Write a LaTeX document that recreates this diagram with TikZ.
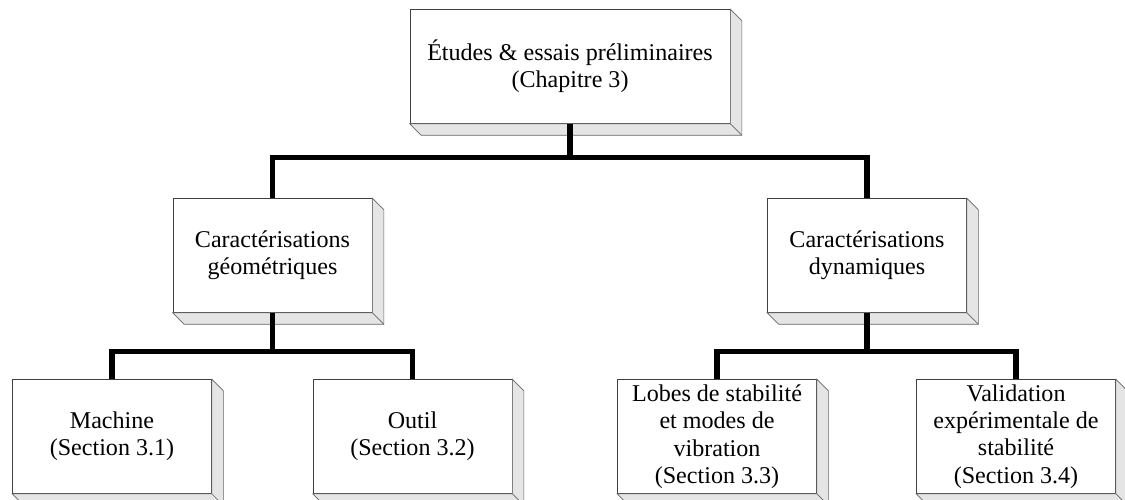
\documentclass[tikz,border=0pt]{standalone}
\usepackage{fontspec}
\setmainfont{Liberation Serif}

\begin{document}
\begin{tikzpicture}[every node/.style={rectangle, draw=black!75, fill=white, thin, minimum width=3.98cm, minimum height=2.28cm, inner sep=0pt, align=center, font=\fontsize{13.7}{15.6}\selectfont},
    face/.style={draw=black!60, fill=black!10, thin},
    link/.style={line width=3pt}]
        \useasboundingbox (0,0) rectangle (22.5,-10);
        % Nodes
        \node (top) at (11.4,-1.33) [minimum width=6.4cm] {Études \& essais préliminaires\\(Chapitre 3)};
        \node (geo) at (5.45,-5.11) {Caractérisations\\géométriques};
        \node (dyn) at (17.34,-5.11) {Caractérisations\\dynamiques};
        \node (mach) at (2.24,-8.73) {Machine\\(Section 3.1)};
        \node (outil) at (8.25,-8.73) {Outil\\(Section 3.2)};
        \node (lobes) at (14.34,-8.73) {Lobes de stabilité\\et modes de\\vibration\\(Section 3.3)};
        \node (valid) at (20.32,-8.73) {Validation\\expérimentale de\\stabilité\\(Section 3.4)};

        % Depth faces
        \foreach \n in {top,geo,dyn,mach,outil,lobes,valid}{
            \draw[face] (\n.north east) -- ([shift={(0.23,-0.23)}]\n.north east)
                -- ([shift={(0.23,-0.23)}]\n.south east) -- ([shift={(0.23,-0.23)}]\n.south west)
                -- (\n.south west) -- (\n.south east) -- cycle;
            \draw[face] (\n.south east) -- ([shift={(0.23,-0.23)}]\n.south east);
        }

        % Edges
        \draw[link] (top.south) -- ++(0,-0.68) -| (geo.north);
        \draw[link] (top.south) -- ++(0,-0.68) -| (dyn.north);
        \draw[link] (geo.south) -- ++(0,-0.78) -| (mach.north);
        \draw[link] (geo.south) -- ++(0,-0.78) -| (outil.north);
        \draw[link] (dyn.south) -- ++(0,-0.78) -| (lobes.north);
        \draw[link] (dyn.south) -- ++(0,-0.78) -| (valid.north);
    \end{tikzpicture}
\end{document}
